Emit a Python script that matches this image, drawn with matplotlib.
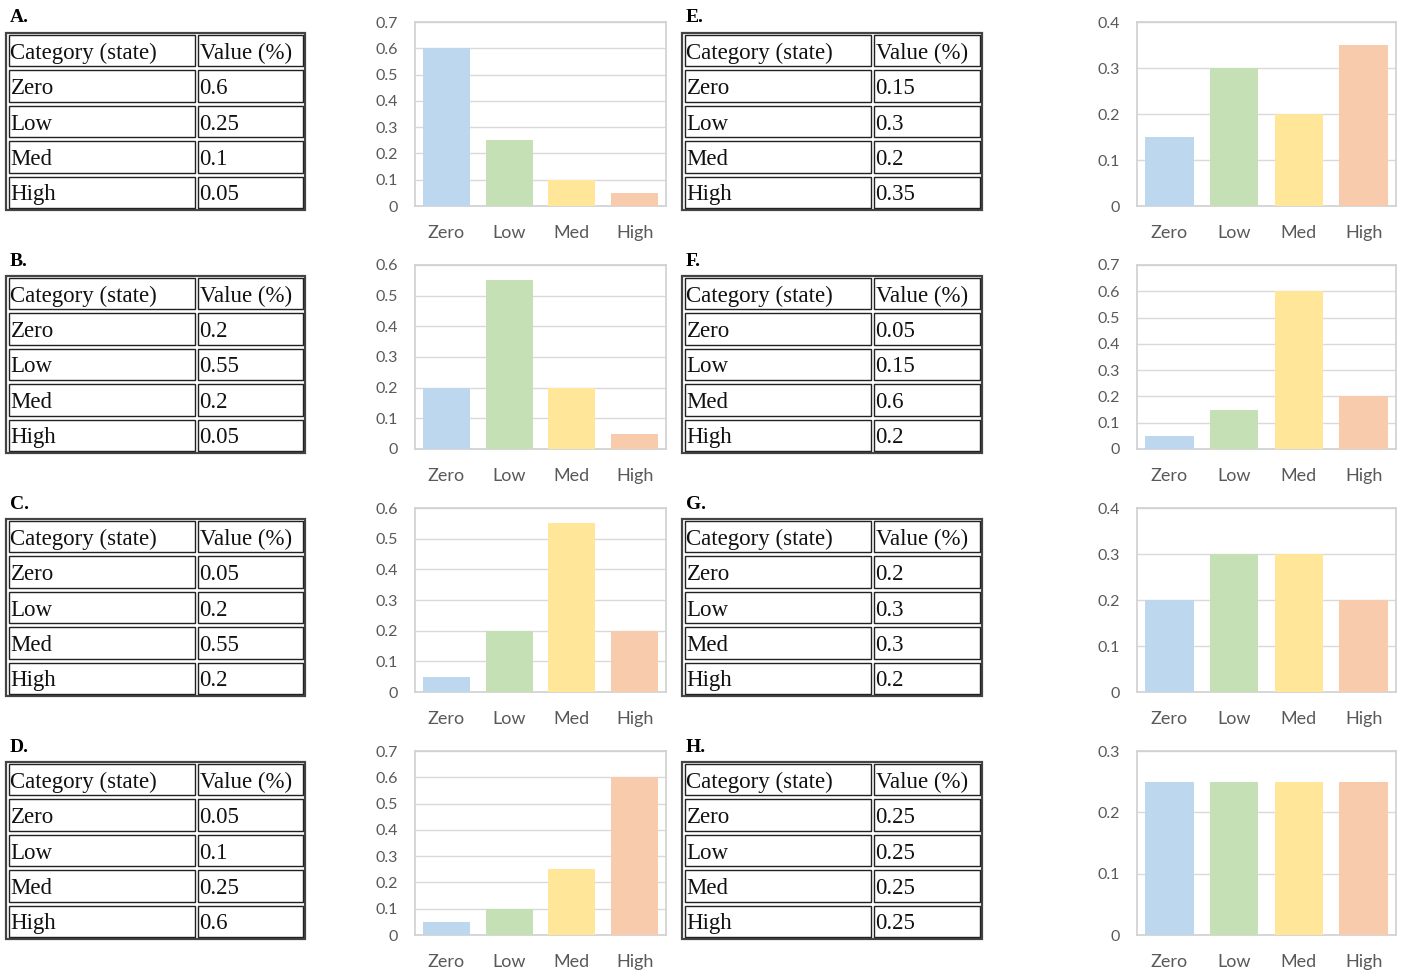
import matplotlib.pyplot as plt
from matplotlib.patches import Rectangle
from matplotlib.ticker import FuncFormatter, MultipleLocator

# data
categories = ["Zero", "Low", "Med", "High"]
panel_names = ["A.", "B.", "C.", "D.", "E.", "F.", "G.", "H."]
values_A = [0.6, 0.25, 0.1, 0.05]
values_B = [0.2, 0.55, 0.2, 0.05]
values_C = [0.05, 0.2, 0.55, 0.2]
values_D = [0.05, 0.1, 0.25, 0.6]
values_E = [0.15, 0.3, 0.2, 0.35]
values_F = [0.05, 0.15, 0.6, 0.2]
values_G = [0.2, 0.3, 0.3, 0.2]
values_H = [0.25, 0.25, 0.25, 0.25]
value_labels_A = ["0.6", "0.25", "0.1", "0.05"]
value_labels_B = ["0.2", "0.55", "0.2", "0.05"]
value_labels_C = ["0.05", "0.2", "0.55", "0.2"]
value_labels_D = ["0.05", "0.1", "0.25", "0.6"]
value_labels_E = ["0.15", "0.3", "0.2", "0.35"]
value_labels_F = ["0.05", "0.15", "0.6", "0.2"]
value_labels_G = ["0.2", "0.3", "0.3", "0.2"]
value_labels_H = ["0.25", "0.25", "0.25", "0.25"]
y_max = [0.7, 0.6, 0.6, 0.7, 0.4, 0.7, 0.4, 0.3]
header = ["Category (state)", "Value (%)"]

all_values = [values_A, values_B, values_C, values_D, values_E, values_F, values_G, values_H]
all_labels = [value_labels_A, value_labels_B, value_labels_C, value_labels_D,
              value_labels_E, value_labels_F, value_labels_G, value_labels_H]

bar_colors = ["#BDD7EE", "#C5E0B4", "#FFE699", "#F8CBAD"]

W, H = 1403, 971
fig = plt.figure(figsize=(W / 100, H / 100), dpi=100)


def fx(px):
    return px / W


def fy(py):
    return 1 - py / H


def draw_table(x0, x1, xsplit, top, bottom, label, rows):
    # panel letter
    fig.text(fx(x0 + 4), fy(top - 15), label, fontsize=14, fontweight="bold",
             family="Liberation Serif", va="center", ha="left")
    # outer border
    fig.add_artist(Rectangle((fx(x0), fy(bottom)), fx(x1 - x0), (bottom - top) / H,
                             transform=fig.transFigure, fill=False,
                             edgecolor="#444444", lw=1.6))
    n = len(rows)
    rh = (bottom - top) / n
    for i, (c1, c2) in enumerate(rows):
        ry0 = top + i * rh + 2
        ry1 = top + (i + 1) * rh - 2
        for cx0, cx1, txt in [(x0 + 2.5, xsplit - 1.5, c1), (xsplit + 1.5, x1 - 2.5, c2)]:
            fig.add_artist(Rectangle((fx(cx0), fy(ry1)), fx(cx1 - cx0), (ry1 - ry0) / H,
                                     transform=fig.transFigure, fill=False,
                                     edgecolor="#222222", lw=1.0))
            fig.text(fx(cx0 + 2), fy((ry0 + ry1) / 2 + 2.5), txt, fontsize=16.5,
                     family="Liberation Serif", va="center", ha="left", color="#111111")


def draw_chart(ax_left, ax_right, top, bottom, vals, ymax):
    ax = fig.add_axes([fx(ax_left), fy(bottom), fx(ax_right - ax_left), (bottom - top) / H])
    ax.bar(range(len(categories)), vals, width=0.75, color=bar_colors, zorder=3)
    ax.set_xlim(-0.5, len(categories) - 0.5)
    ax.set_ylim(0, ymax)
    ax.yaxis.set_major_locator(MultipleLocator(0.1))
    ax.yaxis.set_major_formatter(FuncFormatter(lambda v, p: "0" if abs(v) < 1e-9 else f"{v:.1f}"))
    ax.set_xticks(range(len(categories)))
    ax.set_xticklabels(categories)
    ax.grid(axis="y", color="#D9D9D9", lw=1.0, zorder=0)
    for s in ax.spines.values():
        s.set_color("#D0D0D0")
        s.set_linewidth(1.2)
    ax.tick_params(length=0, labelcolor="#595959")
    ax.tick_params(axis="x", pad=14, labelsize=13)
    ax.tick_params(axis="y", pad=12, labelsize=11.5)
    for t in ax.get_xticklabels() + ax.get_yticklabels():
        t.set_family("Lato")
    return ax


tops = [33, 276, 519, 762]
for k in range(8):
    col = k // 4
    r = k % 4
    top = tops[r]
    rows = [header] + list(zip(categories, all_labels[k]))
    if col == 0:
        draw_table(6, 305, 196, top, top + 177, panel_names[k], rows)
        draw_chart(415, 666, 22 + 243 * r, 206 + 243 * r, all_values[k], y_max[k])
    else:
        draw_table(682, 982, 872, top, top + 177, panel_names[k], rows)
        draw_chart(1137, 1396, 22 + 243 * r, 206 + 243 * r, all_values[k], y_max[k])

fig.savefig("out.png", dpi=100)
